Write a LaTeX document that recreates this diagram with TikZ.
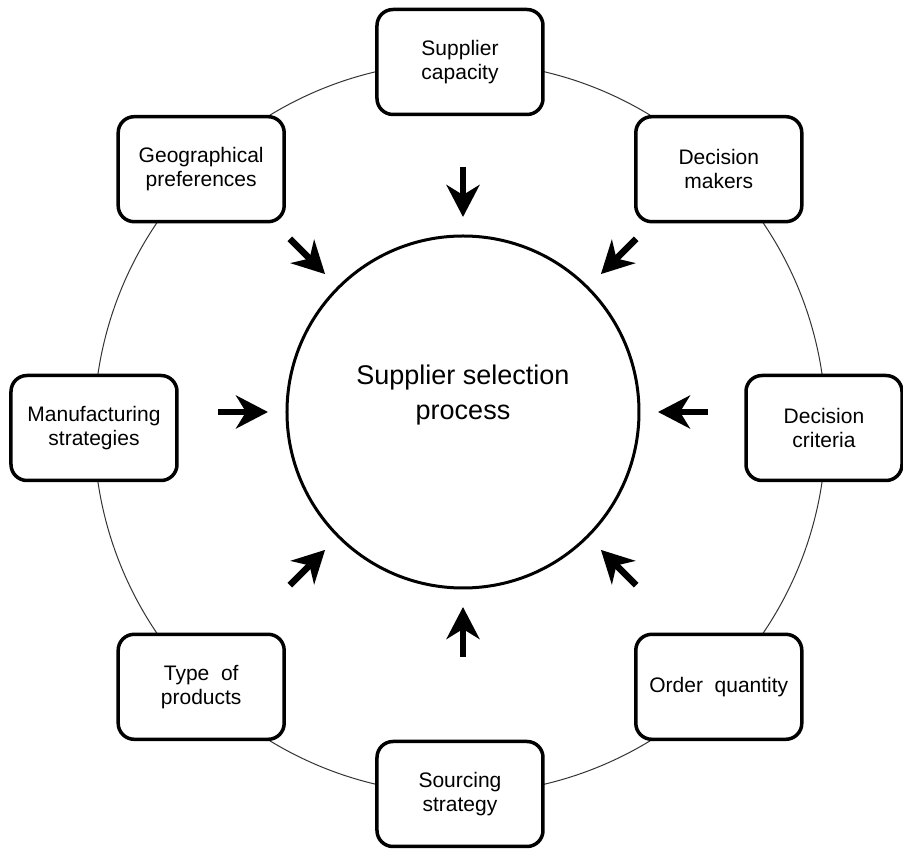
\documentclass[tikz,border=0pt]{standalone}
\usepackage{fontspec}
\setmainfont{Liberation Sans}
\usetikzlibrary{arrows.meta}

\begin{document}
\begin{tikzpicture}[
	x=1pt,y=1pt,
	factor/.style={draw,fill=white,line width=3.5pt,rounded corners=16pt,
		minimum width=166pt,minimum height=105pt,align=center,
		font=\fontsize{21}{24}\selectfont},
	push/.style={line width=6.5pt,-{Stealth[length=32pt,width=33pt,inset=10pt]}}
	]
		\useasboundingbox (-460,-422) rectangle (443,428);
		\draw[line width=1pt,black!80] (0,0) circle (366);
		
		\path (90:366) node[factor] (capacity) {Supplier\\capacity};
		\path (45:366) node[factor] (makers) {Decision\\makers};
		\path (364,0) node[factor,minimum width=156pt] (criteria) {Decision\\criteria};
		\path (-45:366) node[factor] (quantity) {Order\ \ quantity};
		\path (-90:366) node[factor] (sourcing) {Sourcing\\strategy};
		\path (-135:366) node[factor] (products) {Type\ \ of\\products};
		\path (180:366) node[factor] (manufacturing) {Manufacturing\\strategies};
		\path (135:366) node[factor] (geography) {Geographical\\preferences};
		
		\path (3,16) node[circle,draw,line width=3pt,minimum size=352pt] (process) {};
		\path (3,33) node[align=center,font=\fontsize{27}{35}\selectfont] (processtext) {Supplier selection\\process};
		
		\foreach \a in {0,45,...,315}
			\draw[push] ([shift={(\a:245)}]process.center) -- ([shift={(\a:195)}]process.center);
		
	\end{tikzpicture}
\end{document}
